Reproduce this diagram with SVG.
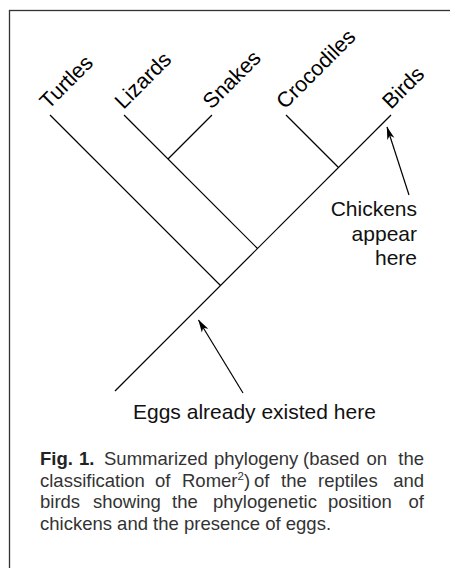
<svg xmlns="http://www.w3.org/2000/svg" width="450" height="568" viewBox="0 0 450 568">
  <style>
    .branch { stroke: #000; stroke-width: 1.2; fill: none; stroke-linecap: butt; }
    .pointer { stroke: #000; stroke-width: 1.2; fill: none; marker-end: url(#head); }
    .taxon { font-family: "Liberation Sans", Arial, sans-serif; font-size: 21.5px; fill: #000; }
    .note { font-family: "Liberation Sans", Arial, sans-serif; font-size: 21px; fill: #111; }
    .caption { font-family: "Liberation Sans", Arial, sans-serif; font-size: 18.5px; fill: #333; }
    .bold { font-weight: bold; fill: #222; }
  </style>
  <defs>
    <marker id="head" viewBox="0 0 13 8" refX="12.5" refY="4" markerWidth="13" markerHeight="8" markerUnits="userSpaceOnUse" orient="auto">
      <path d="M0,0.3 L13,4 L0,7.7 L3.5,4 Z" fill="#000"/>
    </marker>
  </defs>

  <rect x="0" y="0" width="450" height="568" fill="#fff"/>
  <!-- frame (continues past the right and bottom edges) -->
  <rect x="9.5" y="10.5" width="470" height="590" fill="none" stroke="#333" stroke-width="1.3"/>

  <!-- cladogram branches and pointers -->
  <g id="connectors">
    <line class="branch" x1="115" y1="391" x2="391" y2="115"/>
    <line class="branch" x1="50" y1="115" x2="220.5" y2="285.5"/>
    <line class="branch" x1="124" y1="115" x2="257.5" y2="248.5"/>
    <line class="branch" x1="212" y1="115" x2="168" y2="159"/>
    <line class="branch" x1="286" y1="115" x2="338.5" y2="167.5"/>
    <line class="pointer" x1="409" y1="195" x2="387" y2="127"/>
    <line class="pointer" x1="243" y1="393" x2="198.5" y2="320"/>
  </g>

  <!-- taxon labels -->
  <g id="turtles"><text class="taxon" transform="translate(48.5,110) rotate(-45)">Turtles</text></g>
  <g id="lizards"><text class="taxon" transform="translate(123.5,110) rotate(-45)">Lizards</text></g>
  <g id="snakes"><text class="taxon" transform="translate(211.5,110) rotate(-45)">Snakes</text></g>
  <g id="crocodiles"><text class="taxon" transform="translate(285,110) rotate(-45)">Crocodiles</text></g>
  <g id="birds"><text class="taxon" transform="translate(391,110) rotate(-45)">Birds</text></g>

  <!-- annotations -->
  <g id="chickens-note">
    <text class="note" text-anchor="end" x="417" y="215.5">Chickens</text>
    <text class="note" text-anchor="end" x="417" y="240.5">appear</text>
    <text class="note" text-anchor="end" x="417" y="265">here</text>
  </g>
  <g id="eggs-note">
    <text class="note" x="133" y="419">Eggs already existed here</text>
  </g>

  <!-- figure caption, justified: last word of each full line is right-aligned -->
  <g id="caption" class="caption">
    <text y="465"><tspan class="bold" x="40">Fig.</tspan><tspan class="bold" x="79">1.</tspan><tspan x="104">Summarized</tspan><tspan x="214">phylogeny</tspan><tspan x="303">(based</tspan><tspan x="366.5">on</tspan></text>
    <text y="465" x="424" text-anchor="end">the</text>

    <text y="486.5"><tspan x="40">classification</tspan><tspan x="155">of</tspan><tspan x="182">Romer</tspan><tspan font-size="11.5" dy="-6.5">2</tspan><tspan dy="6.5">)</tspan><tspan x="254">of</tspan><tspan x="281">the</tspan><tspan x="318">reptiles</tspan></text>
    <text y="486.5" x="424" text-anchor="end">and</text>

    <text y="508"><tspan x="40">birds</tspan><tspan x="93">showing</tspan><tspan x="172">the</tspan><tspan x="213">phylogenetic</tspan><tspan x="328">position</tspan></text>
    <text y="508" x="424" text-anchor="end">of</text>

    <text y="529.5" x="40">chickens and the presence of eggs.</text>
  </g>
</svg>
